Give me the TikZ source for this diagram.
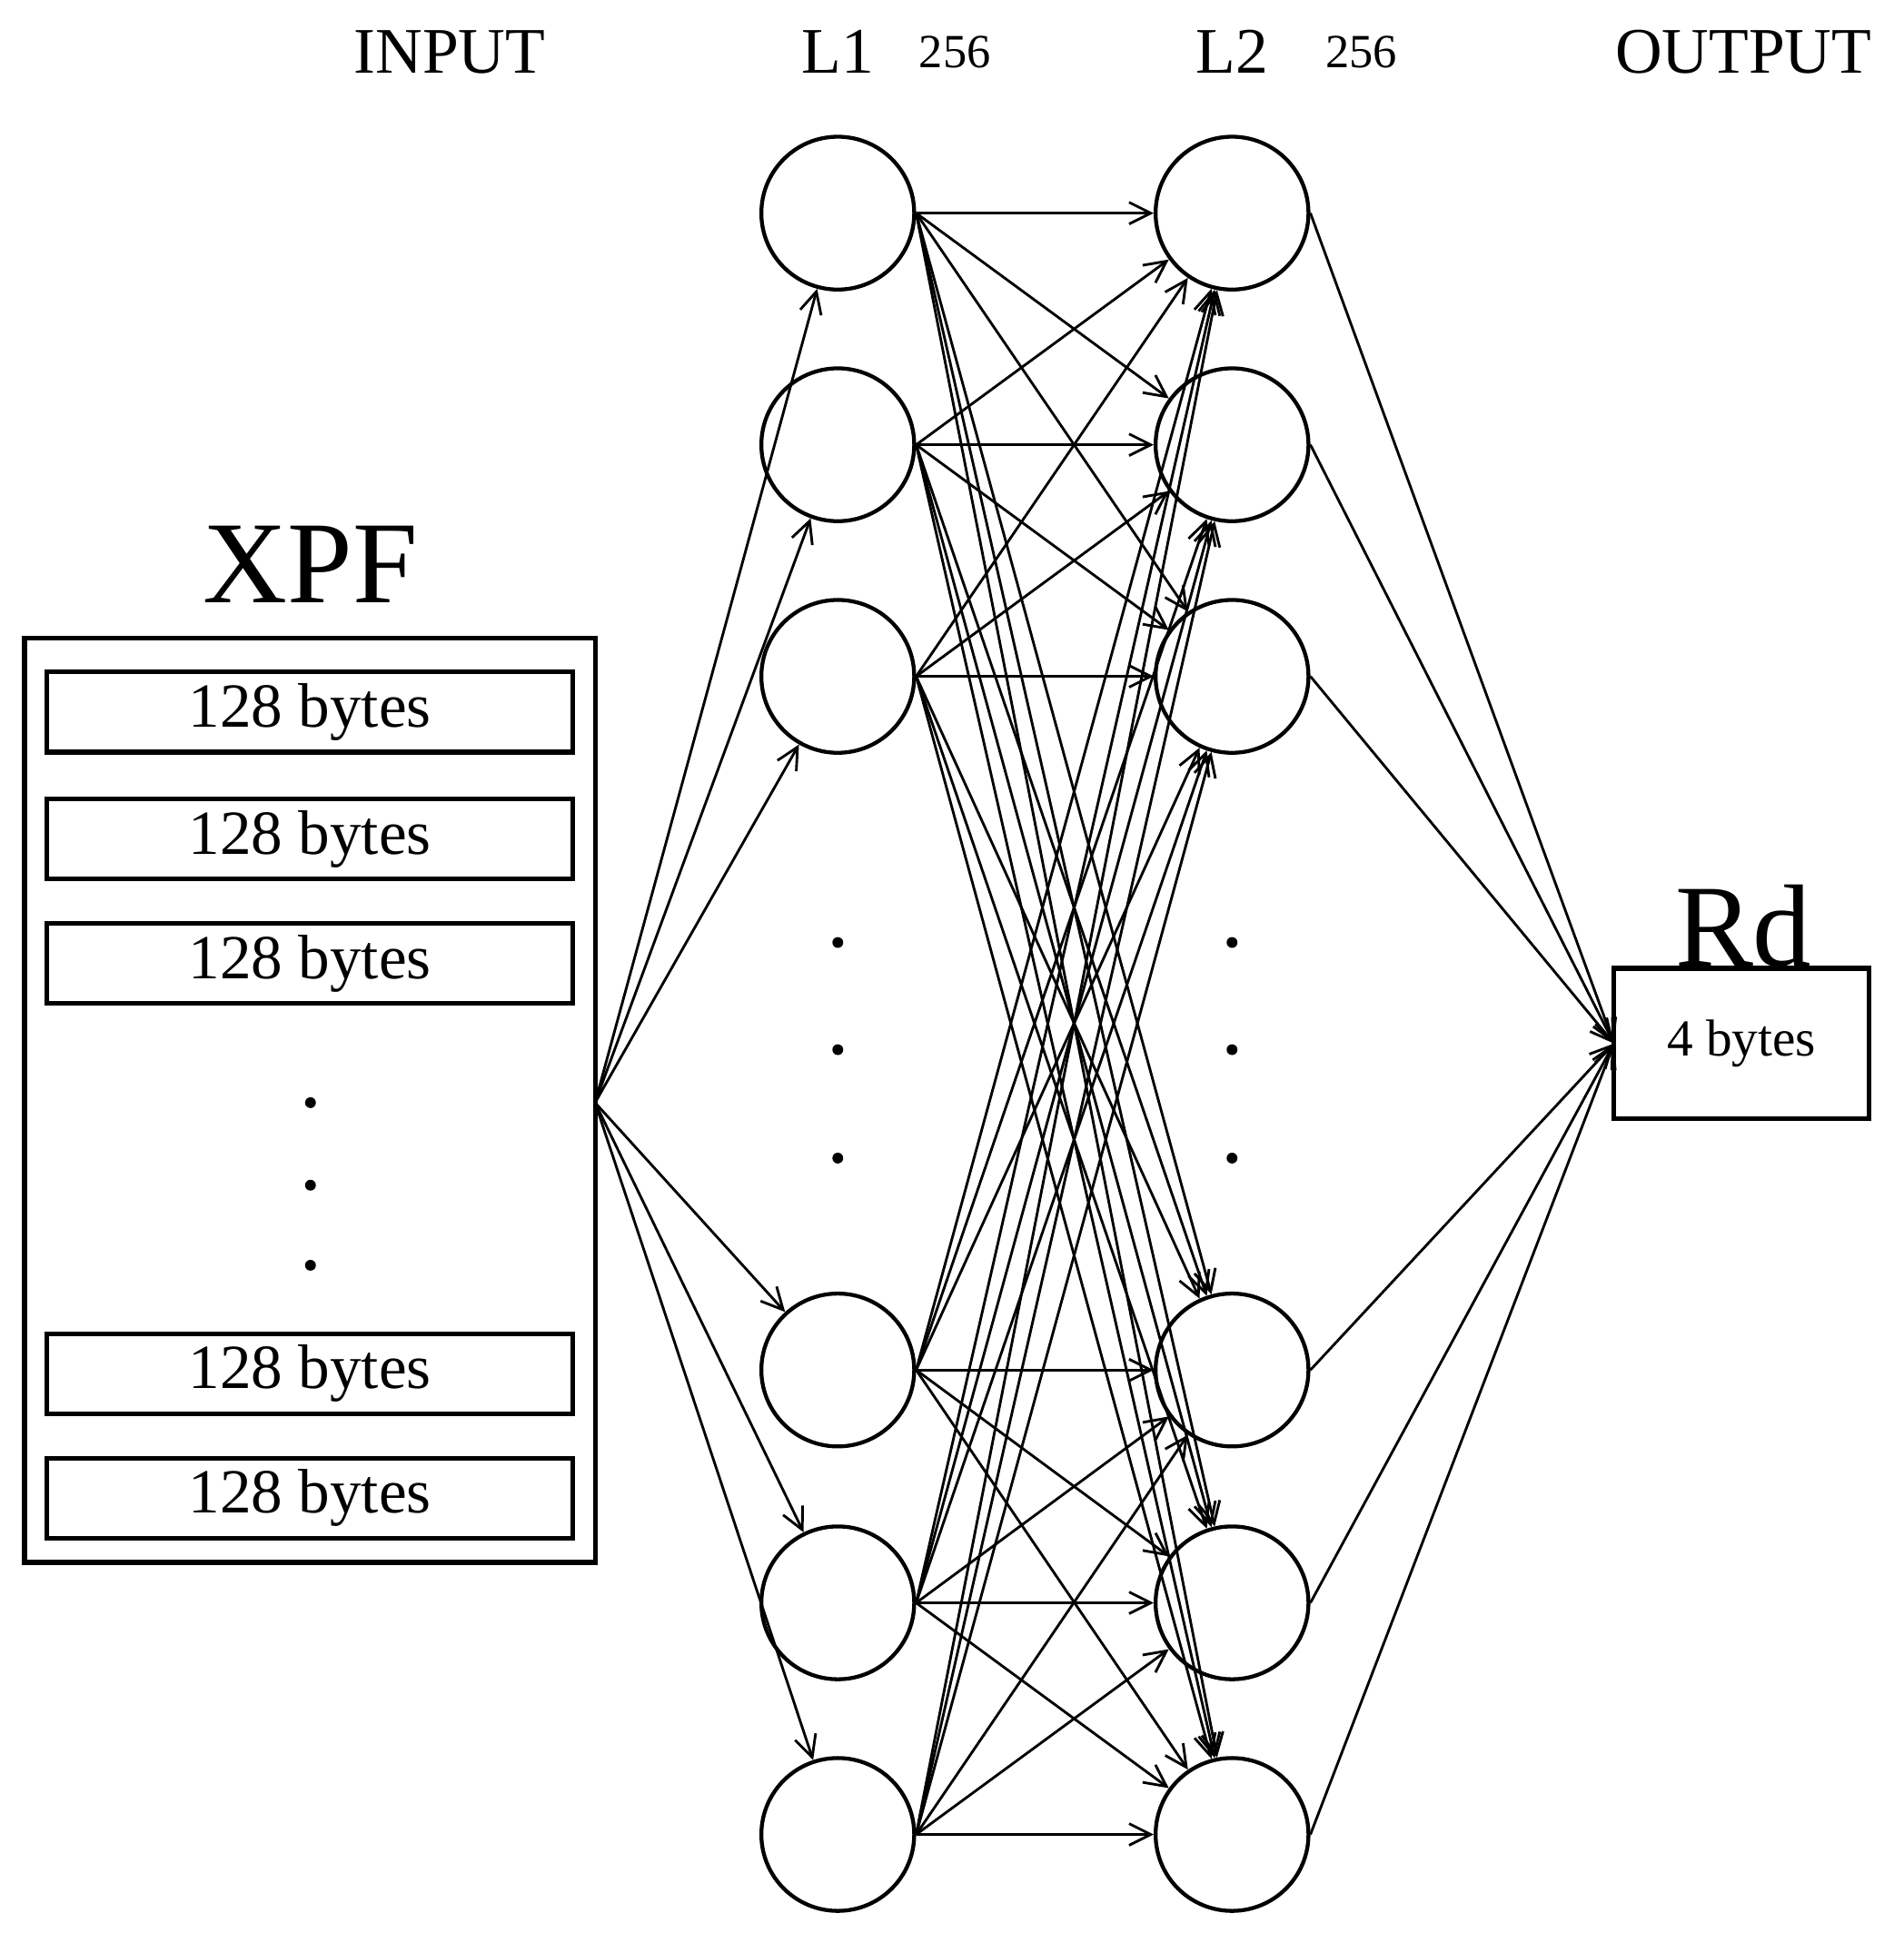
\documentclass[tikz,border=0pt]{standalone}
\usepackage{fontspec}
\setmainfont{Liberation Serif}
\usetikzlibrary{arrows.meta}
\begin{document}
\begin{tikzpicture}[x=0.01cm,y=-0.01cm,
  neuron/.style={circle,draw,line width=0.9pt,minimum size=1.24cm,inner sep=0pt},
  byte/.style={draw,line width=1.1pt,minimum width=4.27cm,minimum height=0.65cm,inner sep=0pt,font=\fontsize{14.5}{16}\selectfont},
  conn/.style={-{Straight Barb[length=5pt,width=5pt]},line width=0.6pt},
  dot/.style={circle,fill,inner sep=0pt,minimum size=2.5pt},
  head/.style={font=\fontsize{15}{18}\selectfont}]
\useasboundingbox (0,0) rectangle (1545,1569);
\node[head] (tin) at (365,42) {INPUT};
\node[head] (tl1) at (680,42) {L1};
\node[font=\fontsize{11}{13}\selectfont] (n1) at (775,42) {256};
\node[head] (tl2) at (1000,42) {L2};
\node[font=\fontsize{11}{13}\selectfont] (n2) at (1105,42) {256};
\node[head] (tout) at (1415,42) {OUTPUT};
\node[font=\fontsize{27}{30}\selectfont] (xpf) at (252,458) {XPF};
\node[draw,line width=1.1pt,minimum width=4.63cm,minimum height=7.5cm,inner sep=0pt] (box) at (251.5,893) {};
\foreach \i/\y in {1/578,2/681,3/782,4/1115,5/1216}
  \node[byte] (b\i) at (251.5,\y) {128 bytes};
\foreach \y [count=\k] in {895,962,1027} \node[dot] (bd\k) at (252,\y) {};
\coordinate (src) at (483,895);
\foreach \i/\y in {1/173,2/361,3/549,4/1112,5/1301,6/1489}{
  \node[neuron] (a\i) at (680,\y) {};
  \node[neuron] (c\i) at (1000,\y) {};
}
\foreach \y [count=\k] in {765,852,940}{
  \node[dot] (ad\k) at (680,\y) {};
  \node[dot] (cd\k) at (1000,\y) {};
}
\node[font=\fontsize{27}{30}\selectfont] (rdt) at (1415,752) {Rd};
\node[draw,line width=1.1pt,minimum width=2.07cm,minimum height=1.22cm,inner sep=0pt,font=\fontsize{12}{14}\selectfont] (rd) at (1413.5,847) {4 bytes};
\coordinate (rdin) at (1310,847);
\foreach \i in {1,...,6} \draw[conn] (src) -- (a\i);
\foreach \i in {1,...,6} \foreach \j in {1,...,6} \draw[conn] (a\i.east) -- (c\j);
\foreach \j in {1,...,6} \draw[conn] (c\j.east) -- (rdin);
\end{tikzpicture}
\end{document}
